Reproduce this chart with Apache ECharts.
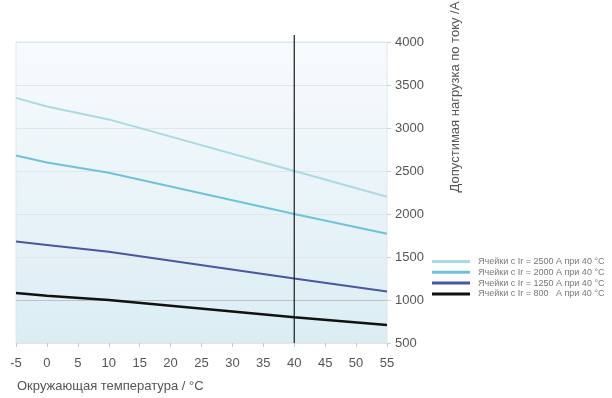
<!DOCTYPE html>
<html>
<head>
<meta charset="utf-8">
<script src="https://cdn.jsdelivr.net/npm/echarts@6/dist/echarts.min.js"></script>
<style>
  html, body { margin: 0; padding: 0; background: #fff; }
  #chart { width: 612px; height: 398px; }
</style>
</head>
<body>
<div id="chart"></div>
<script>
// температура, °C
const temps = [-5, 0, 10, 40, 55]
// допустимая нагрузка, A
const load2500 = [3350, 3250, 3100, 2500, 2200]
const load2000 = [2680, 2600, 2480, 2000, 1770]
const load1250 = [1680, 1640, 1560, 1250, 1100]
const load800 = [1080, 1050, 1000, 800, 710]
const seriesNames = [
  'Ячейки с Ir = 2500 А при 40 °C',
  'Ячейки с Ir = 2000 А при 40 °C',
  'Ячейки с Ir = 1250 А при 40 °C',
  'Ячейки с Ir = 800   А при 40 °C'
]
const refTemp = 40
const yTicks = [500, 4000, 500] // min, max, interval
const xTicks = [-5, 55, 5]

const colors = ['#aadbe2', '#6fc3d8', '#4a55a6', '#111111']
const widths = [2, 2, 2, 2.5]
const font = '"Liberation Sans", Arial, sans-serif'

const myChart = echarts.init(document.getElementById('chart'))

const pairs = (ys) => temps.map((t, i) => [t, ys[i]])
const allData = [load2500, load2000, load1250, load800]

const series = allData.map((ys, i) => ({
  name: seriesNames[i],
  type: 'line',
  data: pairs(ys),
  symbol: 'none',
  smooth: false,
  lineStyle: { color: colors[i], width: widths[i] },
  itemStyle: { color: colors[i] },
  z: 3
}))

const option = {
  animation: false,
  textStyle: { fontFamily: font },
  grid: {
    left: 16,
    right: 225,
    top: 42,
    bottom: 55,
    show: true,
    borderColor: '#e2e6e8',
    borderWidth: 1,
    backgroundColor: {
      type: 'linear', x: 0, y: 0, x2: 0, y2: 1,
      colorStops: [
        { offset: 0, color: '#f8fbfd' },
        { offset: 1, color: '#dbedf4' }
      ]
    }
  },
  xAxis: {
    type: 'value',
    min: xTicks[0],
    max: xTicks[1],
    interval: xTicks[2],
    axisLine: { show: false, onZero: false },
    axisTick: { show: true, length: 4, inside: false, lineStyle: { color: '#c4cacd' } },
    axisLabel: { color: '#555', fontSize: 13, margin: 14, fontFamily: font },
    splitLine: { show: false }
  },
  yAxis: {
    type: 'value',
    position: 'right',
    min: yTicks[0],
    max: yTicks[1],
    interval: yTicks[2],
    axisLine: { show: false, onZero: false },
    axisTick: { show: true, length: 4, lineStyle: { color: '#cdd2d4' } },
    axisLabel: { color: '#555', fontSize: 13, margin: 8, fontFamily: font, formatter: (v) => String(v) },
    splitLine: {
      show: true,
      lineStyle: {
        color: ['#e2e6e8', '#b9c2c4', '#e2e6e8', '#e2e6e8', '#e2e6e8', '#e2e6e8', '#e2e6e8', '#e2e6e8'],
        width: 1
      }
    }
  },
  legend: {
    orient: 'vertical',
    left: 427,
    top: 252,
    itemWidth: 38,
    itemHeight: 3,
    itemGap: 1.8,
    icon: 'rect',
    textStyle: { color: '#777', fontSize: 9, fontFamily: font, padding: [0, 0, 0, 3] },
    data: seriesNames
  },
  graphic: [
    {
      id: 'xTitle',
      type: 'text',
      left: 17,
      top: 380,
      style: { text: 'Окружающая температура / °C', fill: '#555', font: '13px ' + font }
    },
    {
      id: 'yTitle',
      type: 'text',
      x: 455,
      y: 97,
      rotation: Math.PI / 2,
      style: {
        text: 'Допустимая нагрузка по току /A',
        fill: '#555',
        font: '13px ' + font,
        align: 'center',
        verticalAlign: 'middle'
      }
    }
  ],
  series: series
}

myChart.setOption(option)

// вертикальная линия при 40 °C (чуть выше сетки, как в оригинале)
const pTop = myChart.convertToPixel({ gridIndex: 0 }, [refTemp, yTicks[1]])
const pBottom = myChart.convertToPixel({ gridIndex: 0 }, [refTemp, yTicks[0]])
myChart.setOption({
  graphic: [
    {
      id: 'refLine',
      type: 'line',
      z: 10,
      shape: { x1: pTop[0], y1: pTop[1] - 7, x2: pBottom[0], y2: pBottom[1] },
      style: { stroke: '#1a1a1a', lineWidth: 1.2 }
    }
  ]
})
window.addEventListener('resize', () => myChart.resize())
</script>
</body>
</html>
